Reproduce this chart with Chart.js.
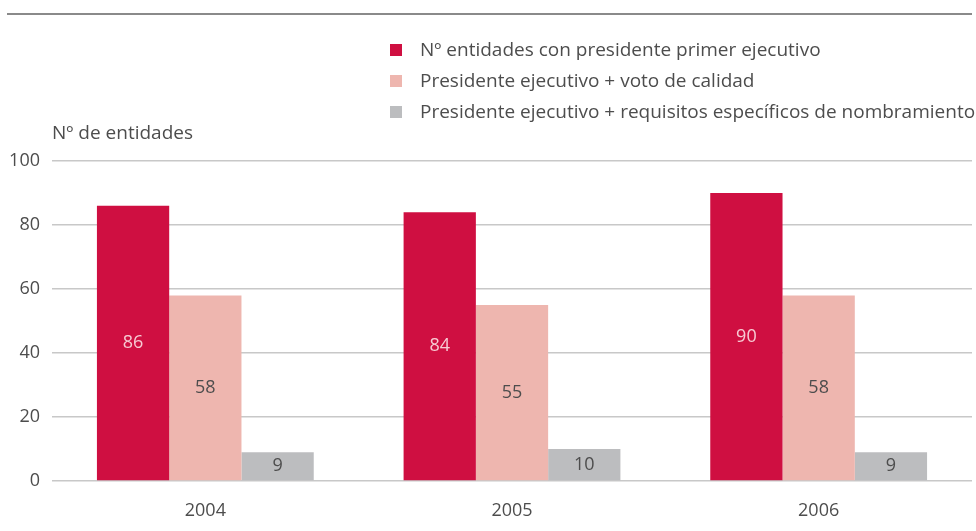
<!DOCTYPE html>
<html>
<head>
<meta charset="utf-8">
<script src="https://cdn.jsdelivr.net/npm/chart.js@4"></script>
<style>
  html, body { margin: 0; padding: 0; background: #fff; }
  #wrap { position: relative; width: 976px; height: 531px; font-family: "Open Sans", sans-serif; color: #4d4d4d; }
  #rule { position: absolute; left: 7px; top: 13px; width: 965px; height: 2px; background: #8a8a8a; }
  #legend { position: absolute; left: 390px; top: 35px; font-size: 19px; }
  #legend div { height: 31px; line-height: 28px; white-space: nowrap; }
  #legend span.box { display: inline-block; width: 12px; height: 12px; margin-right: 18px; vertical-align: 0px; }
  #ytitle { position: absolute; left: 52px; top: 119px; font-size: 19px; }
  canvas { position: absolute; left: 0; top: 0; }
</style>
</head>
<body>
<div id="wrap">
  <canvas id="myChart" width="976" height="531"></canvas>
  <div id="rule"></div>
  <div id="legend"></div>
  <div id="ytitle">Nº de entidades</div>
</div>
<script>
const years = ['2004', '2005', '2006'];
const seriesNames = [
  'Nº entidades con presidente primer ejecutivo',
  'Presidente ejecutivo + voto de calidad',
  'Presidente ejecutivo + requisitos específicos de nombramiento'
];
const primerEjecutivo = [86, 84, 90];
const votoCalidad = [58, 55, 58];
const requisitos = [9, 10, 9];
const yTicks = [0, 20, 40, 60, 80, 100];

const colors = ['#CF0F41', '#EEB6AF', '#BCBDBF'];
const labelColors = ['#F7CBD3', '#4d4d4d', '#4d4d4d'];

// legend in html
const legendBox = document.getElementById('legend');
seriesNames.forEach(function (name, i) {
  const row = document.createElement('div');
  row.innerHTML = '<span class="box" style="background:' + colors[i] + '"></span>' + name;
  legendBox.appendChild(row);
});

// values written in the middle of every bar
const barLabels = {
  id: 'barLabels',
  afterDatasetsDraw(chart) {
    const ctx = chart.ctx;
    ctx.save();
    ctx.font = '18px "Open Sans", sans-serif';
    ctx.textAlign = 'center';
    ctx.textBaseline = 'middle';
    chart.data.datasets.forEach(function (ds, i) {
      chart.getDatasetMeta(i).data.forEach(function (bar, j) {
        ctx.fillStyle = labelColors[i];
        ctx.fillText(ds.data[j], bar.x, (bar.y + bar.base) / 2);
      });
    });
    ctx.restore();
  }
};

const ctx = document.getElementById('myChart').getContext('2d');
const myChart = new Chart(ctx, {
  type: 'bar',
  data: {
    labels: years,
    datasets: [
      { label: seriesNames[0], data: primerEjecutivo, backgroundColor: colors[0] },
      { label: seriesNames[1], data: votoCalidad, backgroundColor: colors[1] },
      { label: seriesNames[2], data: requisitos, backgroundColor: colors[2] }
    ]
  },
  options: {
    responsive: false,
    animation: false,
    datasets: { bar: { categoryPercentage: 0.707, barPercentage: 1.0 } },
    layout: { padding: { top: 161, right: 4, left: 0, bottom: 0 } },
    plugins: { legend: { display: false }, tooltip: { enabled: false } },
    scales: {
      x: {
        grid: { display: false },
        border: { display: false },
        ticks: { color: '#4d4d4d', font: { family: 'Open Sans', size: 18 }, padding: 11 },
        afterFit: function (scale) { scale.height = 50; }
      },
      y: {
        min: 0,
        max: 100,
        afterBuildTicks: function (scale) { scale.ticks = yTicks.map(v => ({ value: v })); },
        grid: { color: '#C8C8C8', lineWidth: 1.5, drawTicks: false },
        border: { display: false },
        ticks: { color: '#4d4d4d', font: { family: 'Open Sans', size: 18 }, padding: 12 },
        afterFit: function (scale) { scale.width = 52; }
      }
    }
  },
  plugins: [barLabels]
});
</script>
</body>
</html>
